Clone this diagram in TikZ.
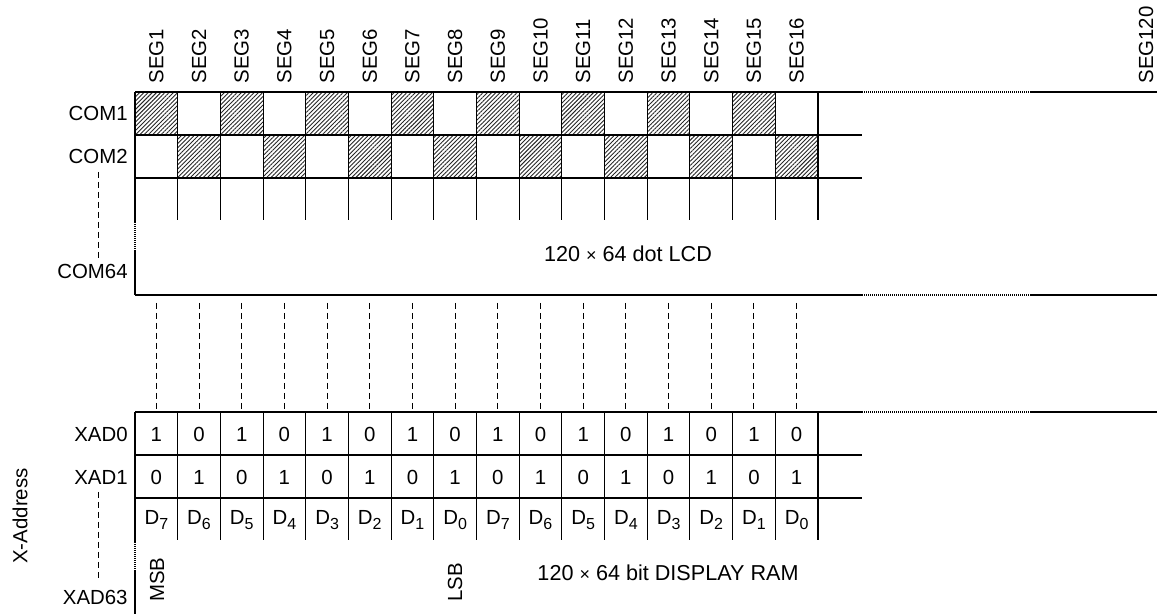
\documentclass[tikz,border=0pt]{standalone}
\usepackage{fontspec}
\setmainfont{Liberation Sans}
\usetikzlibrary{patterns.meta}
\newcommand{\dsub}[1]{D\raisebox{-0.4ex}{\fontsize{8}{8}\selectfont #1}}
\newcommand{\smtimes}{{\fontsize{9}{9}\selectfont ×}}
\begin{document}
\begin{tikzpicture}[x=0.5pt,y=-0.5pt,
  grid/.style={line width=0.55pt},
  gap/.style={line width=0.55pt, dash pattern=on 0.5pt off 0.5pt},
  guide/.style={line width=0.5pt, dash pattern=on 3pt off 2pt},
  hatch/.style={pattern={Lines[angle=45, distance=1.5pt, line width=0.45pt]}, pattern color=black!85},
  lbl/.style={font=\fontsize{10.2}{12}\selectfont, inner sep=0pt},
  title/.style={font=\fontsize{10.8}{12}\selectfont, inner sep=0pt},
  seg/.style={lbl, rotate=90, anchor=west},
  cell/.style={lbl}
]
\useasboundingbox (0,0) rectangle (1157,614);
\def\cw{42.6875}

% LCD panel
\foreach \i in {0,2,...,14} \path[hatch] (135+\i*\cw,92) rectangle ++(\cw,43);
\foreach \i in {1,3,...,15} \path[hatch] (135+\i*\cw,135) rectangle ++(\cw,43);

\foreach \y in {92,295} {
  \draw[grid] (135,\y) -- (862,\y);
  \draw[gap] (862,\y) -- (1031,\y);
  \draw[grid] (1031,\y) -- (1157,\y);
}
\draw[grid] (135,135) -- (862,135);
\draw[grid] (135,178) -- (862,178);
\foreach \i in {1,...,16} \draw[grid] (135+\i*\cw,92) -- ++(0,128);
\draw[grid] (135,92) -- (135,222);
\draw[gap] (135,222) -- (135,250);
\draw[grid] (135,250) -- (135,295);

\foreach \i in {1,...,16}
  \node[seg] (seg\i) at (135+\i*\cw-0.5*\cw,84) {SEG\i};
\node[seg] (seg120) at (1146,84) {SEG120};

\node[lbl, anchor=east] (com1) at (128,113) {COM1};
\node[lbl, anchor=east] (com2) at (128,156) {COM2};
\node[lbl, anchor=east] (com64) at (128,271) {COM64};
\draw[guide] (98,172) -- (98,258);
\node[title] (lcd) at (628,254) {120 \smtimes\ 64 dot LCD};

% column guides
\foreach \i in {1,...,16}
  \draw[guide] (135+\i*\cw-0.5*\cw,303) -- ++(0,107);

% display RAM
\draw[grid] (135,412) -- (862,412);
\draw[gap] (862,412) -- (1031,412);
\draw[grid] (1031,412) -- (1157,412);
\draw[grid] (135,455) -- (862,455);
\draw[grid] (135,498) -- (862,498);
\foreach \i in {1,...,16} \draw[grid] (135+\i*\cw,412) -- ++(0,128);
\draw[grid] (135,412) -- (135,542);
\draw[gap] (135,542) -- (135,571);
\draw[grid] (135,571) -- (135,614);

\foreach \b [count=\i] in {7,6,5,4,3,2,1,0,7,6,5,4,3,2,1,0} {
  \pgfmathtruncatemacro{\va}{mod(\i,2)}
  \pgfmathtruncatemacro{\vb}{1-\va}
  \node[cell] (xa\i) at (135+\i*\cw-0.5*\cw,434) {\va};
  \node[cell] (xb\i) at (135+\i*\cw-0.5*\cw,477) {\vb};
  \node[cell] (d\i) at (135+\i*\cw-0.5*\cw,520) {\dsub{\b}};
}

\node[lbl, anchor=east] (xad0) at (128,434) {XAD0};
\node[lbl, anchor=east] (xad1) at (128,477) {XAD1};
\node[lbl, anchor=east] (xad63) at (128,597) {XAD63};
\draw[guide] (98,492) -- (98,580);
\node[lbl, rotate=90] (xaddr) at (20,516) {X-Address};

\node[seg] (msb) at (157,602) {MSB};
\node[seg] (lsb) at (455,602) {LSB};
\node[title] (ram) at (668,573) {120 \smtimes\ 64 bit DISPLAY RAM};

\end{tikzpicture}
\end{document}
